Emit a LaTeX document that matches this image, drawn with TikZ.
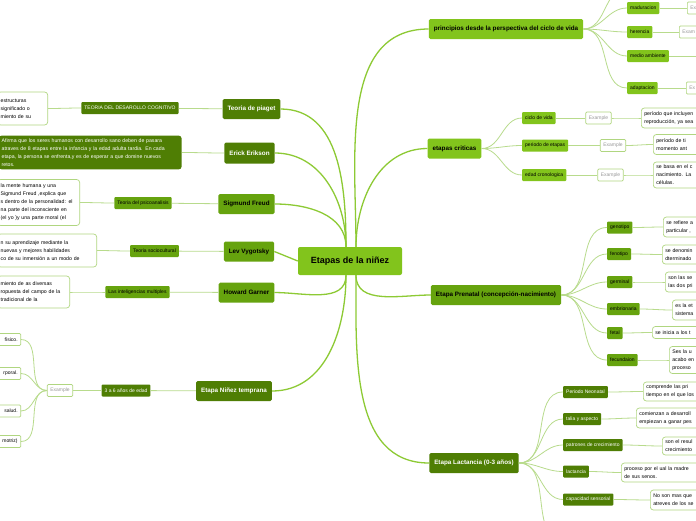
\documentclass[tikz,border=0pt]{standalone}
\usepackage{fontspec}
\setmainfont{Liberation Sans}
\usetikzlibrary{positioning, calc}
\definecolor{limegreen}{HTML}{82C41C}
\definecolor{midgreen}{HTML}{66A30E}
\definecolor{darkgreen}{HTML}{4F7E04}
\definecolor{noteline}{HTML}{B0D680}
\definecolor{mainline}{HTML}{8DCA34}
\definecolor{subline}{HTML}{B8DB8C}
\tikzset{
  rootnode/.style = {fill = limegreen, rounded corners = 2pt, minimum width = 104pt,
    minimum height = 28pt, font = \fontsize{9}{10}\selectfont\bfseries},
  topic/.style = {rounded corners = 1.5pt, inner xsep = 5pt, minimum height = 20pt,
    font = \fontsize{6.3}{7}\selectfont\bfseries},
  topic dark/.style = {topic, fill = darkgreen, text = white},
  topic mid/.style = {topic, fill = midgreen},
  topic lime/.style = {topic, fill = limegreen},
  sub/.style = {rounded corners = 1pt, inner xsep = 3pt, inner ysep = 0pt,
    minimum height = 12pt, font = \fontsize{5}{6}\selectfont},
  sub dark/.style = {sub, fill = darkgreen, text = white},
  sub mid/.style = {sub, fill = midgreen},
  sub lime/.style = {sub, fill = limegreen},
  examplebox/.style = {sub, draw = noteline, fill = white, text = black!40, line width = 0.7pt},
  cutbox/.style = {examplebox, anchor = west, text width = 20pt, align = left},
  leaf/.style = {sub, draw = noteline, fill = white, line width = 0.7pt, text width = 30pt, align = right},
  notebox/.style = {draw = noteline, fill = white, rounded corners = 3pt, line width = 0.7pt,
    align = left, inner xsep = 3pt, inner ysep = 3pt, font = \fontsize{5.2}{8}\selectfont},
  main link/.style = {color = mainline, line width = 1.3pt},
  link/.style = {color = subline, line width = 0.8pt}
}

\begin{document}
\begin{tikzpicture}[x = 1pt, y = 1pt]
\useasboundingbox [fill = white] (0,0) rectangle (696,-520);

%% Root
\node [rootnode] (root) at (350,-261) {Etapas de la niñez};

%%% Left side
\node [topic dark] (piaget) at (251.5,-109) {Teoria de piaget};
\node [topic dark, minimum height = 21pt] (erikson) at (249.5,-153) {Erick Erikson};
\node [topic mid] (freud) at (246.5,-204) {Sigmund Freud};
\node [topic mid] (lev) at (249,-251.5) {Lev Vygotsky};
\node [topic mid] (garner) at (246.5,-292.5) {Howard Garner};
\node [topic dark] (ninez) at (234,-391) {Etapa Niñez temprana};

%% Piaget
\node [sub dark] (cognitivo) at (130,-108) {TEORIA DEL DESAROLLO COGNITIVO};
\node [notebox, anchor = east, text width = 44pt, minimum height = 33pt] (n piaget) at (48,-108.5)
  {estructuras\\significado o\\miento de su};
\path [link] (piaget) edge (cognitivo)
  (cognitivo.west) edge [out = 180, in = 0] (n piaget.east);

%% Erikson
\node [notebox, draw = none, fill = darkgreen, text = white, anchor = east, text width = 177pt,
  minimum height = 33pt] (n erikson) at (182,-152.5)
  {Afirma que los seres humanos con desarrollo sano deben de pasara\\
   atraves de 8 etapas entre la infancia y la edad adulta tardia. En cada\\
   etapa, la persona se enfrenta,y es de esperar a que domine nuevos\\
   retos.};
\path [link] (erikson.west) edge [out = 180, in = 0] (n erikson.east);

%% Freud
\node [sub mid] (psico) at (143,-203) {Teoria del psicoanalisis};
\node [notebox, anchor = east, text width = 76pt, minimum height = 46pt] (n freud) at (80,-202.5)
  {la mente humana y una\\Sigmund Freud ,explica que\\s dentro de la personalidad: el\\
   na parte del inconsciente en\\(el yo )y una parte moral (el};
\path [link] (freud) edge (psico)
  (psico.west) edge [out = 180, in = 0] (n freud.east);

%% Vygotsky
\node [sub mid] (socio) at (154.5,-251) {Teoria sociocultural};
\node [notebox, anchor = east, text width = 93pt, minimum height = 33pt] (n lev) at (97,-250.5)
  {n su aprendizaje mediante la\\nuevas y mejores habilidades\\co de su inmersión a un modo de};
\path [link] (lev) edge (socio)
  (socio.west) edge [out = 180, in = 0] (n lev.east);

%% Garner
\node [sub mid] (multiples) at (137.5,-292) {Las inteligencias multiples};
\node [notebox, anchor = east, text width = 66pt, minimum height = 32pt] (n garner) at (70,-292)
  {miento de as diversas\\ropuesta del campo de la\\tradicional de la};
\path [link] (garner) edge (multiples)
  (multiples.west) edge [out = 180, in = 0] (n garner.east);

%% Niñez temprana
\node [sub dark] (edad) at (126,-390.5) {3 a 6 años de edad};
\node [examplebox] (ex ninez) at (60,-390.5) {Example};
\node [leaf, anchor = east] (fisico) at (21,-339.5) {físico.};
\node [leaf, anchor = east] (corporal) at (21,-373.5) {rporal.};
\node [leaf, anchor = east] (salud) at (21,-411) {salud.};
\node [leaf, anchor = east] (motriz) at (21,-441.5) {motriz)};
\path [link] (ninez) edge (edad) (edad) edge (ex ninez)
  (ex ninez.west) edge [out = 180, in = 0] (fisico.east)
                  edge [out = 180, in = 0] (corporal.east)
                  edge [out = 180, in = 0] (salud.east)
                  edge [out = 180, in = 0] (motriz.east);

%%% Right side
\node [topic lime] (principios) at (506,-29) {principios desde la perspectiva del ciclo de vida};
\node [topic lime] (criticas) at (454.5,-148.5) {etapas criticas};
\node [topic mid] (prenatal) at (496,-295) {Etapa Prenatal (concepción-nacimiento)};
\node [topic dark] (lactancia) at (474,-463) {Etapa Lactancia (0-3 años)};

%% Principios
\coordinate (hidden top) at (627,12);
\node [sub lime, anchor = west] (maduracion) at (627,-8) {maduracion};
\node [sub lime, anchor = west] (herencia) at (627,-32) {herencia};
\node [sub lime, anchor = west] (ambiente) at (627,-56) {medio ambiente};
\node [sub lime, anchor = west] (adaptacion) at (627,-88) {adaptacion};
\node [cutbox] (ex maduracion) at (687,-8) {Ex};
\node [cutbox] (ex herencia) at (679,-32) {Exam};
\coordinate (ex ambiente) at (700,-56);
\node [cutbox] (ex adaptacion) at (686,-88) {Ex};
\path [link] (principios.east) edge [out = 0, in = 180] (hidden top)
  edge [out = 0, in = 180] (maduracion.west)
  edge [out = 0, in = 180] (herencia.west)
  edge [out = 0, in = 180] (ambiente.west)
  edge [out = 0, in = 180] (adaptacion.west);
\path [link] (maduracion) edge (ex maduracion) (herencia) edge (ex herencia)
  (ambiente) edge (ex ambiente) (adaptacion) edge (ex adaptacion);

%% Etapas criticas
\node [sub lime, anchor = west] (ciclo) at (522,-118) {ciclo de vida};
\node [sub lime, anchor = west] (periodo) at (522,-145.5) {periodo de etapas};
\node [sub lime, anchor = west] (cronologica) at (522,-175) {edad cronologica};
\node [examplebox] (ex ciclo) at (598.5,-118) {Example};
\node [examplebox] (ex periodo) at (613,-145.5) {Example};
\node [examplebox] (ex cronologica) at (610.5,-175) {Example};
\node [notebox, anchor = west, text width = 80pt, minimum height = 20pt] (n ciclo) at (641,-118)
  {período que incluyen\\reproducción, ya sea};
\node [notebox, anchor = west, text width = 80pt, minimum height = 20pt] (n periodo) at (653,-144.5)
  {período de ti\\momento ant};
\node [notebox, anchor = west, text width = 80pt, minimum height = 26pt] (n cronologica) at (653,-175)
  {se basa en el c\\nacimiento. La\\células.};
\path [link] (criticas.east) edge [out = 0, in = 180] (ciclo.west)
  edge [out = 0, in = 180] (periodo.west)
  edge [out = 0, in = 180] (cronologica.west);
\path [link] (ciclo) edge (ex ciclo) (periodo) edge (ex periodo) (cronologica) edge (ex cronologica)
  (ex ciclo.east) edge [out = 0, in = 180] (n ciclo.west)
  (ex periodo.east) edge [out = 0, in = 180] (n periodo.west)
  (ex cronologica.east) edge [out = 0, in = 180] (n cronologica.west);

%% Prenatal
\node [sub mid, anchor = west] (genotipo) at (607,-227.5) {genotipo};
\node [sub mid, anchor = west] (fenotipo) at (607,-254) {fenotipo};
\node [sub mid, anchor = west] (germinal) at (607,-282) {germinal};
\node [sub mid, anchor = west] (embrionaria) at (607,-309) {embrionaria};
\node [sub mid, anchor = west] (fetal) at (607,-333) {fetal};
\node [sub mid, anchor = west] (fecundaion) at (607,-360) {fecundaion};
\node [notebox, anchor = west, text width = 50pt, minimum height = 20pt] (n genotipo) at (663,-227)
  {se refiere a\\particular ,};
\node [notebox, anchor = west, text width = 50pt, minimum height = 19pt] (n fenotipo) at (662,-254.5)
  {se denomin\\dterminado};
\node [notebox, anchor = west, text width = 50pt, minimum height = 20pt] (n germinal) at (665,-282)
  {son las se\\las dos pri};
\node [notebox, anchor = west, text width = 50pt, minimum height = 20pt] (n embrionaria) at (672,-310)
  {es la et\\sistema};
\node [notebox, anchor = west, text width = 60pt, minimum height = 12pt, inner ysep = 1pt] (n fetal)
  at (652,-332.5) {se inicia a los t};
\node [notebox, anchor = west, text width = 50pt, minimum height = 27pt] (n fecundaion) at (669,-360)
  {Ses la u\\acabo en\\proceso};
\path [link] (prenatal.east) edge [out = 0, in = 180] (genotipo.west)
  edge [out = 0, in = 180] (fenotipo.west)
  edge [out = 0, in = 180] (germinal.west)
  edge [out = 0, in = 180] (embrionaria.west)
  edge [out = 0, in = 180] (fetal.west)
  edge [out = 0, in = 180] (fecundaion.west);
\path [link] (genotipo.east) edge [out = 0, in = 180] (n genotipo.west)
  (fenotipo.east) edge [out = 0, in = 180] (n fenotipo.west)
  (germinal.east) edge [out = 0, in = 180] (n germinal.west)
  (embrionaria.east) edge [out = 0, in = 180] (n embrionaria.west)
  (fetal.east) edge [out = 0, in = 180] (n fetal.west)
  (fecundaion.east) edge [out = 0, in = 180] (n fecundaion.west);

%% Lactancia
\coordinate (hidden bottom) at (563,-540);
\node [sub dark, anchor = west] (neonatal) at (563,-392) {Periodo Neonatal};
\node [sub dark, anchor = west] (talia) at (563,-419) {talia y aspecto};
\node [sub dark, anchor = west] (patrones) at (563,-445) {patrones de crecimiento};
\node [sub dark, anchor = west] (lactar) at (563,-471.5) {lactancia};
\node [sub dark, anchor = west] (sensorial) at (563,-499.5) {capacidad sensorial};
\node [notebox, anchor = west, text width = 70pt, minimum height = 19pt] (n neonatal) at (643,-391.5)
  {comprende las pri\\tiempo en el que los};
\node [notebox, anchor = west, text width = 70pt, minimum height = 20pt] (n talia) at (636,-418)
  {comienzan a desarroll\\empiezan a ganar pes};
\node [notebox, anchor = west, text width = 50pt, minimum height = 18pt] (n patrones) at (662,-446)
  {son el resul\\crecimiento};
\node [notebox, anchor = west, text width = 90pt, minimum height = 19pt] (n lactar) at (621,-472.5)
  {proceso por el ual la madre\\de sus senos.};
\node [notebox, anchor = west, text width = 60pt, minimum height = 20pt] (n sensorial) at (650,-500)
  {No son mas que\\atreves de los se};
\path [link] (lactancia.east) edge [out = 0, in = 180] (neonatal.west)
  edge [out = 0, in = 180] (talia.west)
  edge [out = 0, in = 180] (patrones.west)
  edge [out = 0, in = 180] (lactar.west)
  edge [out = 0, in = 180] (sensorial.west)
  edge [out = 0, in = 180] (hidden bottom);
\path [link] (neonatal.east) edge [out = 0, in = 180] (n neonatal.west)
  (talia.east) edge [out = 0, in = 180] (n talia.west)
  (patrones.east) edge [out = 0, in = 180] (n patrones.west)
  (lactar.east) edge [out = 0, in = 180] (n lactar.west)
  (sensorial.east) edge [out = 0, in = 180] (n sensorial.west);

%%% Root links
\path [main link] ([xshift = -4pt]root.north) edge [out = 90, in = 0] (piaget.east)
  edge [out = 90, in = 0] (erikson.east)
  edge [out = 90, in = 0] (freud.east);
\path [main link] ([xshift = 6pt]root.north) edge [out = 90, in = 180] (principios.west)
  edge [out = 90, in = 180] (criticas.west);
\path [main link] (root.west) edge (lev.east);
\path [main link] ([xshift = -4pt]root.south) edge [out = 270, in = 0] (garner.east)
  edge [out = 270, in = 0] (ninez.east);
\path [main link] ([xshift = 6pt]root.south) edge [out = 270, in = 180] (prenatal.west)
  edge [out = 270, in = 180] (lactancia.west);
\end{tikzpicture}
\end{document}
